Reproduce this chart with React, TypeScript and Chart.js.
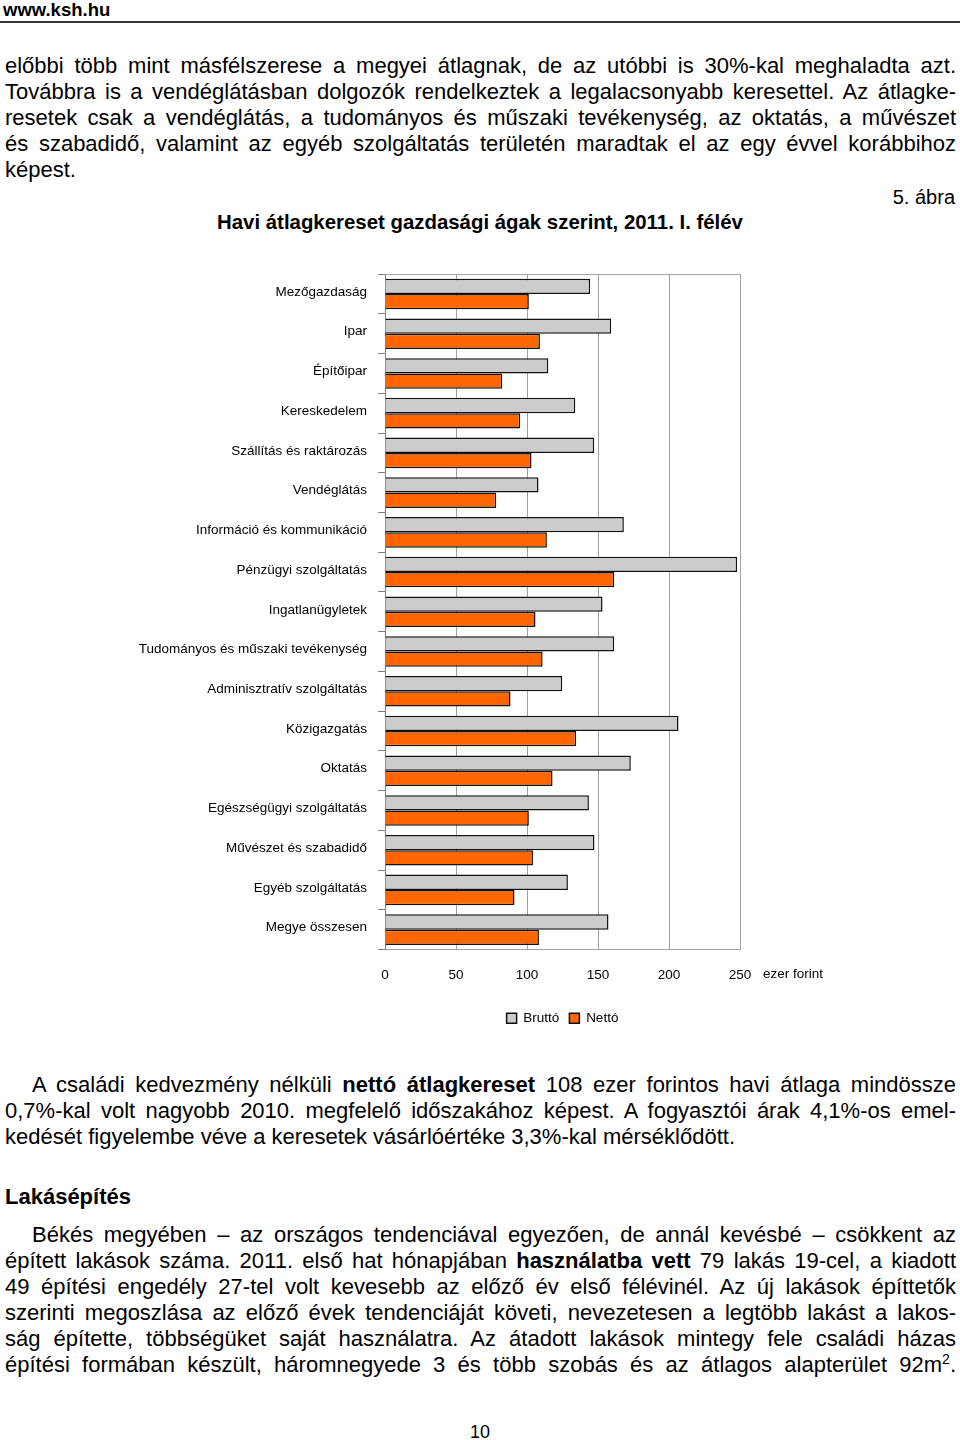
import React, { useEffect, useRef } from "react";
import { Chart, registerables } from "chart.js";

Chart.register(...registerables);

const categories = [
  "Mezőgazdaság",
  "Ipar",
  "Építőipar",
  "Kereskedelem",
  "Szállítás és raktározás",
  "Vendéglátás",
  "Információ és kommunikáció",
  "Pénzügyi szolgáltatás",
  "Ingatlanügyletek",
  "Tudományos és műszaki tevékenység",
  "Adminisztratív szolgáltatás",
  "Közigazgatás",
  "Oktatás",
  "Egészségügyi szolgáltatás",
  "Művészet és szabadidő",
  "Egyéb szolgáltatás",
  "Megye összesen",
];

const brutto = [144.5, 159.3, 115, 134, 147.3, 108.1, 168.2, 248, 153.2, 161.4, 124.8, 206.7, 173.1, 143.6, 147.5, 128.8, 157.4];
const netto = [101.3, 109.1, 82.6, 95.2, 103.2, 78.3, 114, 161.4, 106, 111, 88.4, 134.6, 118, 101.3, 104.2, 91.2, 108.4];

const seriesNames = ["Bruttó", "Nettó"];
const xTicks = [0, 50, 100, 150, 200, 250];
const unitLabel = "ezer forint";

const FONT = "'Liberation Sans', Arial, sans-serif";

const frame = {
  id: "frame",
  afterDraw(chart: any) {
    const { ctx, chartArea } = chart;
    ctx.save();
    ctx.strokeStyle = "#a0a0a0";
    ctx.lineWidth = 1;
    ctx.beginPath();
    ctx.moveTo(chartArea.left, chartArea.top + 0.5);
    ctx.lineTo(chartArea.right, chartArea.top + 0.5);
    ctx.stroke();
    ctx.fillStyle = "#000";
    ctx.font = "13.5px " + FONT;
    ctx.textBaseline = "top";
    ctx.textAlign = "left";
    ctx.fillText(unitLabel, chartArea.right + 23, chartArea.bottom + 18);
    ctx.restore();
  },
};

function BarChart() {
  const ref = useRef<HTMLCanvasElement>(null);
  useEffect(() => {
    const chart = new Chart(ref.current as HTMLCanvasElement, {
      type: "bar",
      data: {
        labels: categories,
        datasets: [
          {
            label: seriesNames[0],
            data: brutto,
            backgroundColor: "#cccccc",
            borderColor: "#111111",
            borderWidth: 1.5,
          },
          {
            label: seriesNames[1],
            data: netto,
            backgroundColor: "#ff6600",
            borderColor: "#111111",
            borderWidth: 1.5,
          },
        ],
      },
      options: {
        indexAxis: "y",
        responsive: false,
        animation: false,
        devicePixelRatio: 1,
        datasets: { bar: { categoryPercentage: 0.77, barPercentage: 1 } },
        layout: { padding: { top: 17, right: 120, left: 0, bottom: 10 } },
        plugins: {
          tooltip: { enabled: false },
          legend: {
            position: "bottom",
            fullSize: false,
            labels: {
              boxWidth: 10,
              boxHeight: 10,
              padding: 10,
              color: "#000",
              font: { family: FONT, size: 13.5 },
            },
          },
        },
        scales: {
          x: {
            min: 0,
            max: 250,
            afterBuildTicks: (s: any) => {
              s.ticks = xTicks.map((v) => ({ value: v }));
            },
            afterFit: (s: any) => {
              s.height = 52;
            },
            grid: { color: "#a0a0a0", drawTicks: false, lineWidth: 1 },
            border: { display: true, color: "#a0a0a0" },
            ticks: { color: "#000", padding: 18, font: { family: FONT, size: 13.5 } },
          },
          y: {
            afterFit: (s: any) => {
              s.width = 285;
            },
            grid: { drawOnChartArea: false, drawTicks: true, tickLength: 7, color: "#808080" },
            border: { display: true, color: "#808080" },
            ticks: { color: "#000", padding: 11, labelOffset: -2, autoSkip: false, font: { family: FONT, size: 13.5 } },
          },
        },
      },
      plugins: [frame],
    } as any);
    return () => chart.destroy();
  }, []);
  return (
    <canvas
      ref={ref}
      width={760}
      height={790}
      style={{ position: "absolute", left: 100, top: 255, width: 760, height: 790 }}
    />
  );
}

const bodyFont: React.CSSProperties = {
  fontFamily: FONT,
  fontSize: 22,
  color: "#000",
  lineHeight: "26px",
};

function Line({ top, children, last, indent }: { top: number; children: React.ReactNode; last?: boolean; indent?: number }) {
  return (
    <div
      style={{
        ...bodyFont,
        position: "absolute",
        top,
        left: 5 + (indent || 0),
        width: 951 - (indent || 0),
        height: 26,
        textAlign: "justify",
        textAlignLast: last ? "left" : "justify",
        wordSpacing: last ? 0 : -1.5,
        whiteSpace: "normal",
        overflow: "visible",
      }}
    >
      {children}
    </div>
  );
}

export default function App() {
  return (
    <div style={{ position: "absolute", left: 0, top: 0, width: 960, height: 1440, background: "#fff", overflow: "hidden" }}>
      <div style={{ position: "absolute", left: 3, top: 0, fontFamily: FONT, fontWeight: "bold", fontSize: 18.5, lineHeight: "20px" }}>
        www.ksh.hu
      </div>
      <div style={{ position: "absolute", left: 0, top: 21, width: 960, height: 2, background: "#333" }} />

      <Line top={53}>előbbi több mint másfélszerese a megyei átlagnak, de az utóbbi is 30%-kal meghaladta azt.</Line>
      <Line top={79}>Továbbra is a vendéglátásban dolgozók rendelkeztek a legalacsonyabb keresettel. Az átlagke-</Line>
      <Line top={105}>resetek csak a vendéglátás, a tudományos és műszaki tevékenység, az oktatás, a művészet</Line>
      <Line top={131}>és szabadidő, valamint az egyéb szolgáltatás területén maradtak el az egy évvel korábbihoz</Line>
      <Line top={157} last>képest.</Line>

      <div style={{ ...bodyFont, fontSize: 20, position: "absolute", top: 184, right: 5, textAlign: "right" }}>5. ábra</div>
      <div
        style={{
          position: "absolute",
          top: 209,
          left: 0,
          width: 960,
          textAlign: "center",
          fontFamily: FONT,
          fontWeight: "bold",
          fontSize: 20.4,
          lineHeight: "26px",
        }}
      >
        Havi átlagkereset gazdasági ágak szerint, 2011. I. félév
      </div>

      <BarChart />

      <Line top={1072} indent={27}>
        A családi kedvezmény nélküli <b>nettó átlagkereset</b> 108 ezer forintos havi átlaga mindössze
      </Line>
      <Line top={1098}>0,7%-kal volt nagyobb 2010. megfelelő időszakához képest. A fogyasztói árak 4,1%-os emel-</Line>
      <Line top={1124} last>kedését figyelembe véve a keresetek vásárlóértéke 3,3%-kal mérséklődött.</Line>

      <div style={{ ...bodyFont, fontWeight: "bold", position: "absolute", top: 1184, left: 5 }}>Lakásépítés</div>

      <Line top={1222} indent={27}>
        Békés megyében – az országos tendenciával egyezően, de annál kevésbé – csökkent az
      </Line>
      <Line top={1248}>
        épített lakások száma. 2011. első hat hónapjában <b>használatba vett</b> 79 lakás 19-cel, a kiadott
      </Line>
      <Line top={1274}>49 építési engedély 27-tel volt kevesebb az előző év első félévinél. Az új lakások építtetők</Line>
      <Line top={1300}>szerinti megoszlása az előző évek tendenciáját követi, nevezetesen a legtöbb lakást a lakos-</Line>
      <Line top={1326}>ság építette, többségüket saját használatra. Az átadott lakások mintegy fele családi házas</Line>
      <Line top={1352}>
        építési formában készült, háromnegyede 3 és több szobás és az átlagos alapterület 92m
        <sup style={{ fontSize: 14, lineHeight: 0 }}>2</sup>.
      </Line>

      <div style={{ position: "absolute", top: 1420, left: 0, width: 960, textAlign: "center", fontFamily: FONT, fontSize: 18, lineHeight: "24px" }}>
        10
      </div>
    </div>
  );
}
